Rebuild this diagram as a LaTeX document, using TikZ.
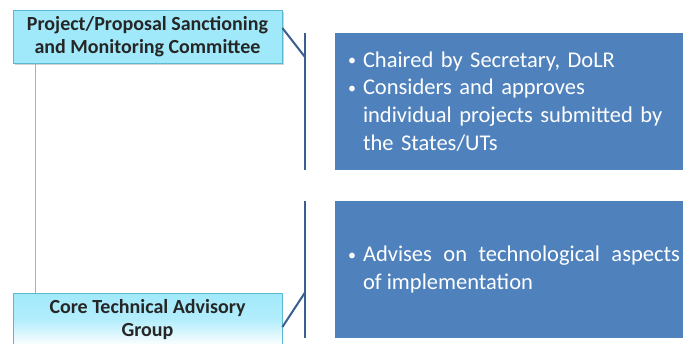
\documentclass[tikz,border=0pt]{standalone}
\usepackage{fontspec}
\setmainfont{Carlito}
\usetikzlibrary{shadows}

\definecolor{boxcyan}{HTML}{A0E9FB}
\definecolor{boxedge}{HTML}{5BB8D0}
\definecolor{linkblue}{HTML}{8EB4E3}
\definecolor{bracketblue}{HTML}{3B5E91}
\definecolor{infoblue}{HTML}{4F81BD}

\newcommand{\bul}[1]{\hyphenpenalty=10000\exhyphenpenalty=10000\leftskip=10pt\noindent\hangindent=15pt\hangafter=1\hbox to 15pt{\raisebox{1.5pt}{\fontsize{16}{16}\selectfont\textbullet}\hfil}#1\par}

\begin{document}
\begin{tikzpicture}[x=1pt, y=-1pt,
        body/.style={draw=boxedge, line width=0.8pt, align=center, font=\fontsize{20}{23}\selectfont\bfseries,
            text=black!85, minimum width=269pt, minimum height=53pt, inner sep=0pt},
        topbox/.style={body, fill=boxcyan, drop shadow={opacity=0.35, shadow xshift=1.5pt, shadow yshift=-2pt}},
        lowbox/.style={body, top color=boxcyan, bottom color=white, middle color=boxcyan!80!white},
        infobox/.style={fill=infoblue, text=white, minimum width=348pt, minimum height=137pt, inner sep=0pt,
            text width=342pt, font=\fontsize{22.5}{27.7}\selectfont},
        link/.style={draw=linkblue, line width=0.9pt},
        bracket/.style={draw=bracketblue, line width=2pt}
    ]
        \useasboundingbox[fill=white] (0,0) rectangle (683,343);

        \node[topbox] (psmc) at (147.5,36.5) {Project/Proposal Sanctioning\\and Monitoring Committee};
        \node[lowbox] (ctag) at (147.5,319.5) {Core Technical Advisory\\Group};
        \draw[link] ([xshift=23pt]psmc.south west) -- ([xshift=23pt]ctag.north west);

        \node[infobox, align=left] (chair) at (509,101.5) {\bul{Chaired by Secretary, DoLR}\bul{Considers and approves individual projects submitted by the States/UTs}};
        \node[infobox, align=justify] (advise) at (509,269.5) {\bul{Advises on technological aspects\linebreak of implementation}};

        % brackets from the boxes to the notes
        \draw[bracket] ([xshift=-30pt]chair.north west) -- ([xshift=-30pt]chair.south west);
        \draw[bracket] ([yshift=8.5pt]psmc.east) -- ([xshift=-30pt,yshift=-24pt]chair.north west);
        \draw[bracket] ([xshift=-30pt]advise.north west) -- ([xshift=-30pt]advise.south west);
        \draw[bracket] ([yshift=-7.5pt]ctag.east) -- ([xshift=-30pt,yshift=-92pt]advise.north west);
    \end{tikzpicture}
\end{document}
